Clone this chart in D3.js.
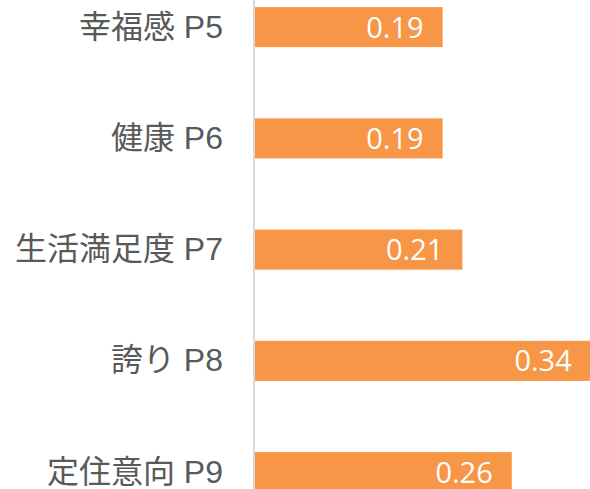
<!DOCTYPE html>
<html>
<head>
<meta charset="utf-8">
<script src="https://cdn.jsdelivr.net/npm/d3@7"></script>
<style>
  html, body { margin: 0; padding: 0; background: #fff; }
  svg { display: block; }
</style>
</head>
<body>
<svg id="chart" width="590" height="489"></svg>
<script>
// Categories (top to bottom) and their values
const categories = ["幸福感 P5", "健康 P6", "生活満足度 P7", "誇り P8", "定住意向 P9"];
const values = [0.19, 0.19, 0.21, 0.34, 0.26];
const valueLabels = ["0.19", "0.19", "0.21", "0.34", "0.26"];

const width = 590, height = 489;
const svg = d3.select("#chart");

const x = d3.scaleLinear().domain([0, 0.4]).range([255, 255 + 395]);
const y = d3.scaleBand()
  .domain(categories)
  .range([-28.5, 527.75])
  .paddingInner(0.64)
  .paddingOuter(0.32);

// Bars
svg.append("g").selectAll("rect")
  .data(categories)
  .join("rect")
  .attr("x", x(0))
  .attr("y", d => y(d))
  .attr("width", (d, i) => x(values[i]) - x(0))
  .attr("height", y.bandwidth())
  .attr("fill", "#F79646");

// Value labels inside bar ends
svg.append("g").selectAll("text")
  .data(categories)
  .join("text")
  .attr("x", (d, i) => Math.min(x(values[i]) - 19, 577))
  .attr("y", d => y(d) + y.bandwidth() / 2)
  .attr("dy", "0.36em")
  .attr("text-anchor", "end")
  .attr("fill", "#fff")
  .style("font-family", "'Open Sans', 'Noto Sans CJK JP', sans-serif")
  .style("font-size", "29px")
  .text((d, i) => valueLabels[i]);

// Category axis
const axis = svg.append("g")
  .attr("transform", `translate(${x(0) - 1},0)`)
  .call(d3.axisLeft(y).tickSize(0).tickPadding(31).tickSizeOuter(0));
axis.select(".domain").remove();
axis.append("line")
  .attr("x1", 0).attr("x2", 0)
  .attr("y1", 0).attr("y2", height)
  .attr("stroke", "#D9D9D9")
  .attr("stroke-width", 2);
axis.selectAll(".tick text")
  .attr("fill", "#595959")
  .attr("dy", "0.33em")
  .style("font-family", "'Liberation Sans', 'Noto Sans CJK JP', sans-serif")
  .style("font-size", "32px");
</script>
</body>
</html>
